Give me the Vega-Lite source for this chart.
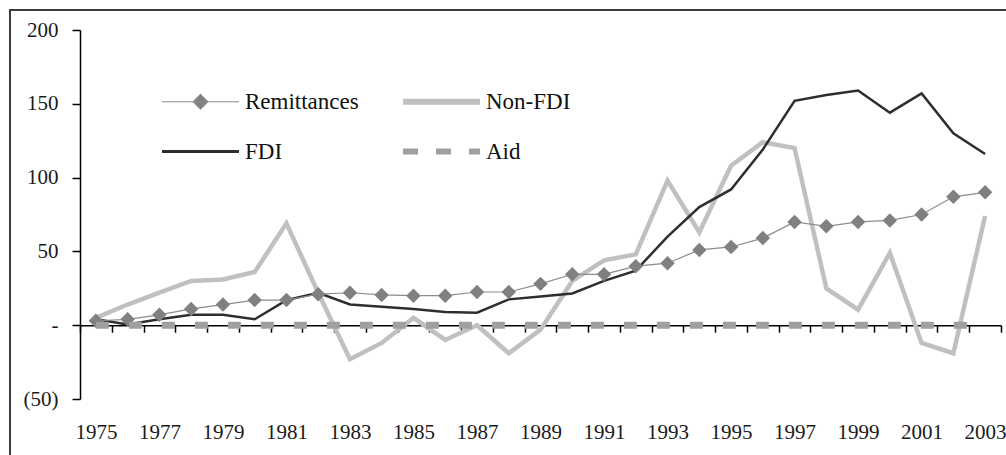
{
  "$schema": "https://vega.github.io/schema/vega-lite/v6.json",
  "width": 1000,
  "height": 450,
  "autosize": {"type": "none"},
  "padding": {"left": 10, "top": 10, "right": 0, "bottom": 0},
  "background": "white",
  "config": {"view": {"stroke": "#3a3a3a", "strokeWidth": 2}, "font": "'Liberation Serif', 'Times New Roman', Times, serif"},
  "datasets": {
    "d": [
      {"year": 1975, "series": "Remittances", "value": 3}, {"year": 1976, "series": "Remittances", "value": 4}, {"year": 1977, "series": "Remittances", "value": 7}, {"year": 1978, "series": "Remittances", "value": 11}, {"year": 1979, "series": "Remittances", "value": 14}, {"year": 1980, "series": "Remittances", "value": 17}, {"year": 1981, "series": "Remittances", "value": 17}, {"year": 1982, "series": "Remittances", "value": 21}, {"year": 1983, "series": "Remittances", "value": 22}, {"year": 1984, "series": "Remittances", "value": 20.5}, {"year": 1985, "series": "Remittances", "value": 20}, {"year": 1986, "series": "Remittances", "value": 20}, {"year": 1987, "series": "Remittances", "value": 22.5}, {"year": 1988, "series": "Remittances", "value": 22.5}, {"year": 1989, "series": "Remittances", "value": 28}, {"year": 1990, "series": "Remittances", "value": 34.5}, {"year": 1991, "series": "Remittances", "value": 34.5}, {"year": 1992, "series": "Remittances", "value": 40}, {"year": 1993, "series": "Remittances", "value": 42}, {"year": 1994, "series": "Remittances", "value": 51}, {"year": 1995, "series": "Remittances", "value": 53}, {"year": 1996, "series": "Remittances", "value": 59}, {"year": 1997, "series": "Remittances", "value": 70}, {"year": 1998, "series": "Remittances", "value": 67}, {"year": 1999, "series": "Remittances", "value": 70}, {"year": 2000, "series": "Remittances", "value": 71}, {"year": 2001, "series": "Remittances", "value": 75}, {"year": 2002, "series": "Remittances", "value": 87}, {"year": 2003, "series": "Remittances", "value": 90},
      {"year": 1975, "series": "FDI", "value": 4}, {"year": 1976, "series": "FDI", "value": 0.5}, {"year": 1977, "series": "FDI", "value": 4}, {"year": 1978, "series": "FDI", "value": 7}, {"year": 1979, "series": "FDI", "value": 7}, {"year": 1980, "series": "FDI", "value": 4}, {"year": 1981, "series": "FDI", "value": 17}, {"year": 1982, "series": "FDI", "value": 22}, {"year": 1983, "series": "FDI", "value": 14}, {"year": 1984, "series": "FDI", "value": 12.5}, {"year": 1985, "series": "FDI", "value": 11}, {"year": 1986, "series": "FDI", "value": 9}, {"year": 1987, "series": "FDI", "value": 8.5}, {"year": 1988, "series": "FDI", "value": 17.5}, {"year": 1989, "series": "FDI", "value": 19.5}, {"year": 1990, "series": "FDI", "value": 21.5}, {"year": 1991, "series": "FDI", "value": 30}, {"year": 1992, "series": "FDI", "value": 37}, {"year": 1993, "series": "FDI", "value": 60}, {"year": 1994, "series": "FDI", "value": 80}, {"year": 1995, "series": "FDI", "value": 92}, {"year": 1996, "series": "FDI", "value": 119}, {"year": 1997, "series": "FDI", "value": 152}, {"year": 1998, "series": "FDI", "value": 156}, {"year": 1999, "series": "FDI", "value": 159}, {"year": 2000, "series": "FDI", "value": 144}, {"year": 2001, "series": "FDI", "value": 157}, {"year": 2002, "series": "FDI", "value": 130}, {"year": 2003, "series": "FDI", "value": 116},
      {"year": 1975, "series": "Non-FDI", "value": 5}, {"year": 1976, "series": "Non-FDI", "value": 14}, {"year": 1977, "series": "Non-FDI", "value": 22}, {"year": 1978, "series": "Non-FDI", "value": 30}, {"year": 1979, "series": "Non-FDI", "value": 31}, {"year": 1980, "series": "Non-FDI", "value": 36}, {"year": 1981, "series": "Non-FDI", "value": 69}, {"year": 1982, "series": "Non-FDI", "value": 22}, {"year": 1983, "series": "Non-FDI", "value": -23}, {"year": 1984, "series": "Non-FDI", "value": -12}, {"year": 1985, "series": "Non-FDI", "value": 5}, {"year": 1986, "series": "Non-FDI", "value": -10}, {"year": 1987, "series": "Non-FDI", "value": 0}, {"year": 1988, "series": "Non-FDI", "value": -19}, {"year": 1989, "series": "Non-FDI", "value": -3}, {"year": 1990, "series": "Non-FDI", "value": 30}, {"year": 1991, "series": "Non-FDI", "value": 44}, {"year": 1992, "series": "Non-FDI", "value": 48}, {"year": 1993, "series": "Non-FDI", "value": 98}, {"year": 1994, "series": "Non-FDI", "value": 63}, {"year": 1995, "series": "Non-FDI", "value": 108}, {"year": 1996, "series": "Non-FDI", "value": 124}, {"year": 1997, "series": "Non-FDI", "value": 120}, {"year": 1998, "series": "Non-FDI", "value": 25}, {"year": 1999, "series": "Non-FDI", "value": 10.5}, {"year": 2000, "series": "Non-FDI", "value": 49}, {"year": 2001, "series": "Non-FDI", "value": -12}, {"year": 2002, "series": "Non-FDI", "value": -19}, {"year": 2003, "series": "Non-FDI", "value": 74},
      {"year": 1975, "series": "Aid", "value": 0}, {"year": 1976, "series": "Aid", "value": 0}, {"year": 1977, "series": "Aid", "value": 0}, {"year": 1978, "series": "Aid", "value": 0}, {"year": 1979, "series": "Aid", "value": 0}, {"year": 1980, "series": "Aid", "value": 0}, {"year": 1981, "series": "Aid", "value": 0}, {"year": 1982, "series": "Aid", "value": 0}, {"year": 1983, "series": "Aid", "value": 0}, {"year": 1984, "series": "Aid", "value": 0}, {"year": 1985, "series": "Aid", "value": 0}, {"year": 1986, "series": "Aid", "value": 0}, {"year": 1987, "series": "Aid", "value": 0}, {"year": 1988, "series": "Aid", "value": 0}, {"year": 1989, "series": "Aid", "value": 0}, {"year": 1990, "series": "Aid", "value": 0}, {"year": 1991, "series": "Aid", "value": 0}, {"year": 1992, "series": "Aid", "value": 0}, {"year": 1993, "series": "Aid", "value": 0}, {"year": 1994, "series": "Aid", "value": 0}, {"year": 1995, "series": "Aid", "value": 0}, {"year": 1996, "series": "Aid", "value": 0}, {"year": 1997, "series": "Aid", "value": 0}, {"year": 1998, "series": "Aid", "value": 0}, {"year": 1999, "series": "Aid", "value": 0}, {"year": 2000, "series": "Aid", "value": 0}, {"year": 2001, "series": "Aid", "value": 0}, {"year": 2002, "series": "Aid", "value": 0}, {"year": 2003, "series": "Aid", "value": 0}
    ]
  },
  "data": {"name": "d"},
  "encoding": {
    "x": {
      "field": "year", "type": "ordinal",
      "scale": {"type": "band", "range": [70, 991], "paddingInner": 0, "paddingOuter": 0},
      "axis": {
        "title": null, "orient": "bottom", "offset": -134.8, "tickBand": "extent", "tickSize": 7,
        "tickColor": "#000", "domainColor": "#000", "domainWidth": 1.5, "tickWidth": 1.5,
        "labelAngle": 0, "labelFont": "'Liberation Serif', 'Times New Roman', Times, serif", "labelFontSize": 21, "labelColor": "#1a1a1a",
        "labelPadding": 89, "labelOverlap": false,
        "labelExpr": "(+datum.value - 1975) % 2 === 0 ? datum.label : ''"
      }
    },
    "y": {
      "field": "value", "type": "quantitative",
      "scale": {"domain": [-50, 200], "range": [389, 20], "nice": false, "zero": false},
      "axis": {
        "title": null, "orient": "left", "offset": -70, "values": [-50, 0, 50, 100, 150, 200],
        "tickSize": 8, "labelFont": "'Liberation Serif', 'Times New Roman', Times, serif", "labelFontSize": 21,
        "labelPadding": 14,
        "labelColor": "#1a1a1a", "domainColor": "#000", "domainWidth": 1.5, "tickColor": "#000", "tickWidth": 1.5, "grid": false,
        "labelExpr": "datum.value === 0 ? '-' : datum.value < 0 ? '(' + (-datum.value) + ')' : '' + datum.value"
      }
    },
    "color": {
      "field": "series", "type": "nominal",
      "scale": {"domain": ["Remittances", "FDI", "Non-FDI", "Aid"], "range": ["#8c8c8c", "#2e2e2e", "#c0c0c0", "#a0a0a0"]},
      "legend": {
        "title": null, "orient": "none", "legendX": 179, "legendY": 80, "columns": 2, "columnPadding": 32, "rowPadding": 25,
        "symbolType": "stroke", "symbolSize": 5929, "labelFont": "'Liberation Serif', 'Times New Roman', Times, serif", "labelFontSize": 23, "labelColor": "#111",
        "labelOffset": 33, "labelLimit": 300,
        "encode": {
          "symbols": {
            "update": {
              "shape": {"signal": "datum.value === 'Remittances' ? 'M-1,0H1M0,-0.19L0.19,0L0,0.19L-0.19,0Z' : 'stroke'"},
              "fill": {"signal": "datum.value === 'Remittances' ? '#808080' : 'transparent'"},
              "strokeWidth": {"signal": "datum.value === 'Non-FDI' ? 6 : datum.value === 'FDI' ? 3 : datum.value === 'Aid' ? 6 : 1.2"},
              "strokeDash": {"signal": "datum.value === 'Aid' ? [15, 18] : [1, 0]"}
            }
          }
        }
      }
    }
  },
  "layer": [
    {"transform": [{"filter": "datum.series === 'Non-FDI'"}], "mark": {"type": "line", "strokeWidth": 4.5}},
    {"transform": [{"filter": "datum.series === 'FDI'"}], "mark": {"type": "line", "strokeWidth": 2.5}},
    {"transform": [{"filter": "datum.series === 'Remittances'"}], "mark": {"type": "line", "strokeWidth": 1.2}},
    {"transform": [{"filter": "datum.series === 'Remittances'"}], "mark": {"type": "point", "shape": "diamond", "filled": true, "size": 210, "opacity": 1}, "encoding": {"color": {"value": "#808080"}}},
    {"transform": [{"filter": "datum.series === 'Aid'"}], "mark": {"type": "line", "strokeWidth": 7, "strokeDash": [13, 20], "strokeCap": "butt"}}
  ]
}
